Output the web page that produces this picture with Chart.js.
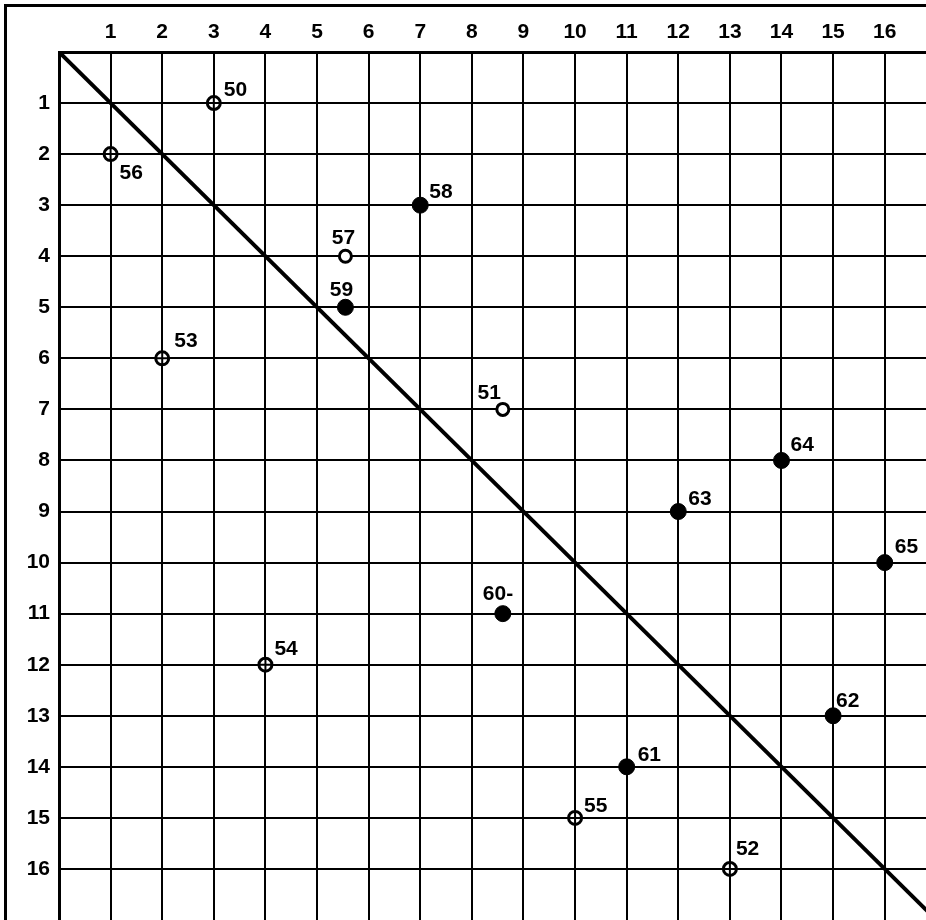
<!DOCTYPE html>
<html>
<head>
<meta charset="utf-8">
<script src="https://cdn.jsdelivr.net/npm/chart.js@4/dist/chart.umd.min.js"></script>
<style>
  html, body { margin: 0; padding: 0; background: #fff; }
  canvas { display: block; }
</style>
</head>
<body>
<canvas id="grid_chart" width="926" height="920"></canvas>
<script>
// point data
const pointLabels = ["50", "56", "58", "57", "59", "53", "51", "64", "63", "65", "60-", "54", "62", "61", "55", "52"];
const xValues = [3, 1, 7, 5.55, 5.55, 2, 8.6, 14, 12, 16, 8.6, 4, 15, 11, 10, 13];
const yValues = [1, 2, 3, 4, 5, 6, 7, 8, 9, 10, 11, 12, 13, 14, 15, 16];
const markerKinds = ["crossed", "crossed", "filled", "open", "filled", "crossed", "open", "filled",
                     "filled", "filled", "filled", "crossed", "filled", "filled", "crossed", "crossed"];
const xTickLabels = [1, 2, 3, 4, 5, 6, 7, 8, 9, 10, 11, 12, 13, 14, 15, 16];
const yTickLabels = [1, 2, 3, 4, 5, 6, 7, 8, 9, 10, 11, 12, 13, 14, 15, 16];
const diagonalEnds = [0, 17];

// where each number sits next to its mark (pixels: dx, dy to baseline, alignment)
const labelOffsets = {
    "50": [10, -7, "left"],   "56": [9, 25, "left"],    "58": [9, -7, "left"],
    "57": [-2, -12, "center"], "59": [-4, -11, "center"], "53": [12, -11, "left"],
    "51": [-2, -10, "right"], "64": [9, -9, "left"],    "63": [10, -7, "left"],
    "65": [10, -10, "left"],  "60-": [-20, -14, "left"], "54": [9, -10, "left"],
    "62": [3, -9, "left"],    "61": [11, -6, "left"],   "55": [9, -6, "left"],
    "52": [6, -14, "left"]
};

const FONT_FAMILY = "'Liberation Sans', Arial, sans-serif";
const LABEL_FONT = "bold 21px " + FONT_FAMILY;

function pointsOfKind(kind)
{
    const pts = [];
    for (let i = 0; i < xValues.length; i++)
    {
        if (markerKinds[i] === kind) pts.push({ x: xValues[i], y: yValues[i] });
    }
    return pts;
}

// no extra room for edge labels, the grid runs off the page
function noPadding(scale)
{
    scale.paddingLeft = 0;
    scale.paddingRight = 0;
    scale.paddingTop = 0;
    scale.paddingBottom = 0;
}

const framePlugin = {
    id: "frame",
    beforeDraw(chart)
    {
        const ctx = chart.ctx;
        ctx.save();
        ctx.fillStyle = "#fff";
        ctx.fillRect(0, 0, chart.width, chart.height);
        ctx.strokeStyle = "#000";
        ctx.lineWidth = 3;
        ctx.beginPath();
        ctx.moveTo(5.5, chart.height);
        ctx.lineTo(5.5, 5.5);
        ctx.lineTo(chart.width, 5.5);
        ctx.stroke();
        ctx.restore();
    }
};

const pointLabelPlugin = {
    id: "pointLabels",
    afterDatasetsDraw(chart)
    {
        const ctx = chart.ctx;
        const xs = chart.scales.x;
        const ys = chart.scales.y;
        ctx.save();
        ctx.font = LABEL_FONT;
        ctx.fillStyle = "#000";
        ctx.textBaseline = "alphabetic";
        for (let i = 0; i < pointLabels.length; i++)
        {
            const off = labelOffsets[pointLabels[i]];
            ctx.textAlign = off[2];
            ctx.fillText(pointLabels[i],
                xs.getPixelForValue(xValues[i]) + off[0],
                ys.getPixelForValue(yValues[i]) + off[1]);
        }
        ctx.restore();
    }
};

const grid_chart = new Chart("grid_chart",
{
    type: "scatter",
    data:
    {
        datasets:
        [
            {
                // cross part of the crossed circles
                data: pointsOfKind("crossed"),
                pointStyle: "cross",
                pointRadius: 6.5,
                borderColor: "#000",
                borderWidth: 2,
                order: 0
            },
            {
                data: pointsOfKind("crossed"),
                pointStyle: "circle",
                pointRadius: 6.5,
                backgroundColor: "#fff",
                borderColor: "#000",
                borderWidth: 3,
                order: 1
            },
            {
                data: pointsOfKind("open"),
                pointStyle: "circle",
                pointRadius: 6,
                backgroundColor: "#fff",
                borderColor: "#000",
                borderWidth: 3,
                order: 1
            },
            {
                data: pointsOfKind("filled"),
                pointStyle: "circle",
                pointRadius: 8,
                backgroundColor: "#000",
                borderColor: "#000",
                borderWidth: 1,
                order: 1
            },
            {
                type: "line",
                data: diagonalEnds.map(v => ({ x: v, y: v })),
                borderColor: "#000",
                borderWidth: 4,
                pointRadius: 0,
                order: 5
            }
        ]
    },
    options:
    {
        responsive: false,
        animation: false,
        events: [],
        layout: { padding: 0, autoPadding: false },
        plugins:
        {
            legend: { display: false },
            tooltip: { enabled: false }
        },
        scales:
        {
            x:
            {
                type: "linear",
                position: "top",
                min: 0,
                max: 16.8,
                afterFit(scale) { scale.height = 52; noPadding(scale); },
                afterBuildTicks(scale) { scale.ticks = [0].concat(xTickLabels).map(v => ({ value: v })); },
                ticks:
                {
                    padding: 7,
                    color: "#000",
                    font: { family: FONT_FAMILY, size: 21, weight: "bold" },
                    callback: v => (xTickLabels.includes(v) ? String(v) : "")
                },
                grid: { color: "#000", lineWidth: 2, drawTicks: false },
                border: { color: "#000", width: 3 }
            },
            y:
            {
                type: "linear",
                position: "left",
                reverse: true,
                min: 0,
                max: 17,
                afterFit(scale) { scale.width = 59; noPadding(scale); },
                afterBuildTicks(scale) { scale.ticks = [0].concat(yTickLabels).map(v => ({ value: v })); },
                ticks:
                {
                    padding: 9,
                    color: "#000",
                    font: { family: FONT_FAMILY, size: 21, weight: "bold" },
                    callback: v => (yTickLabels.includes(v) ? String(v) : "")
                },
                grid: { color: "#000", lineWidth: 2, drawTicks: false },
                border: { color: "#000", width: 3 }
            }
        }
    },
    plugins: [framePlugin, pointLabelPlugin]
});
</script>
</body>
</html>
